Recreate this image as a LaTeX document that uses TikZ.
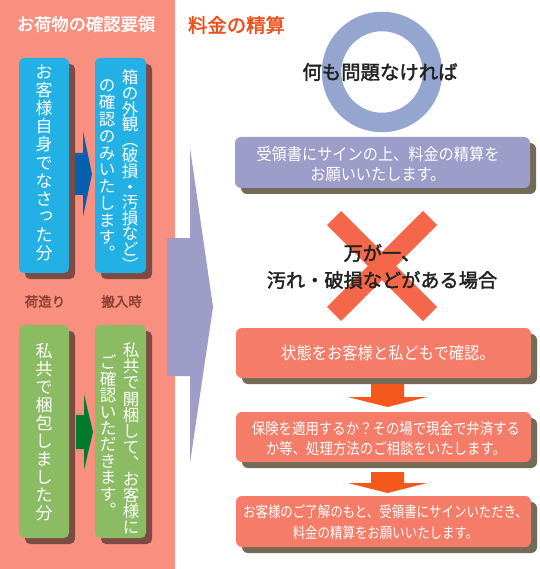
\documentclass[tikz,border=0pt]{standalone}
\usepackage{fontspec}
\usepackage{graphicx}
\newfontfamily\jp{Noto Sans CJK JP}
\newfontfamily\jpb{Noto Sans CJK JP}[FakeBold=2]
\usetikzlibrary{shadows}
\definecolor{salmonbg}{HTML}{F9907F}
\definecolor{bluebox}{HTML}{23B0E5}
\definecolor{dblue}{HTML}{0561AE}
\definecolor{greenbox}{HTML}{8BBB62}
\definecolor{dgreen}{HTML}{047A2F}
\definecolor{labelcol}{HTML}{8A3D30}
\definecolor{titleR}{HTML}{EF5019}
\definecolor{ringcol}{HTML}{94A6CF}
\definecolor{lavbox}{HTML}{9C9DC9}
\definecolor{lavarrow}{HTML}{9D9DC7}
\definecolor{xcol}{HTML}{F5674A}
\definecolor{sbox}{HTML}{F47C68}
\definecolor{oarrow}{HTML}{F4591B}
\definecolor{textdark}{HTML}{222222}
\definecolor{shL}{HTML}{7C4C44}
\definecolor{shR}{HTML}{736A58}
\newcommand\cond[2]{\scalebox{#1}[1]{\begin{tabular}{@{}c@{}}#2\end{tabular}}}
\newcommand\smallv[1]{\makebox[1em]{\hspace{0.25em}\raisebox{0.18em}{#1}}}
\begin{document}
\begin{tikzpicture}[x=1pt,y=-1pt,
  every node/.style={inner sep=0pt,outer sep=0pt},
  lbox/.style={rounded corners=5pt,minimum width=50pt,minimum height=215pt,
    drop shadow={shadow xshift=6pt,shadow yshift=-6pt,fill=shL,opacity=1}},
  rbox/.style={rounded corners=6pt,minimum width=295pt,
    drop shadow={shadow xshift=6pt,shadow yshift=-6pt,fill=shR,opacity=1}},
  vtxt/.style={anchor=north,align=center,text=white},
  htxt/.style={text=white,align=center}]
\useasboundingbox (0,0) rectangle (539,569);
\fill[white] (0,0) rectangle (539,569);
\fill[salmonbg] (0,0) rectangle (175,569);
% big lavender arrow
\fill[lavarrow] (167,238) -- (190,238) -- (190,148) -- (213,307) -- (190,463) -- (190,376) -- (167,376) -- cycle;
% left titles
\node[font=\jpb\fontsize{17.3}{20}\selectfont,text=white] (tl) at (86,24) {お荷物の確認要領};
\node[font=\jpb\fontsize{19.4}{22}\selectfont,text=titleR] (tr) at (236.5,25) {料金の精算};
% left boxes
\node[lbox,fill=bluebox] (b1) at (44,165.5) {};
\node[lbox,fill=bluebox,minimum width=51pt] (b2) at (120.5,165.5) {};
\node[lbox,fill=greenbox,minimum height=213pt] (g1) at (44,431.5) {};
\node[lbox,fill=greenbox,minimum width=51pt,minimum height=213pt] (g2) at (120.5,431.5) {};
% left arrows
\fill[dblue] (75,153) -- (83,153) -- (83,131) -- (92,174) -- (83,217) -- (83,195) -- (75,195) -- cycle;
\fill[dgreen] (76,415) -- (84,415) -- (84,394) -- (93,432) -- (84,470) -- (84,449) -- (76,449) -- cycle;
% vertical texts
\node[vtxt,font=\jp\fontsize{17}{18.1}\selectfont] (tb1) at (44,65)
 {お\\客\\様\\自\\身\\で\\な\\さ\\\smallv{っ}\\た\\分};
\node[vtxt,font=\jp\fontsize{16.5}{15.6}\selectfont] (tb2r) at (130,70)
 {箱\\の\\外\\観\\︵\\破\\損\\・\\汚\\損\\な\\ど\\︶};
\node[vtxt,font=\jp\fontsize{16.5}{16.8}\selectfont] (tb2l) at (107,80)
 {の\\確\\認\\の\\み\\い\\た\\し\\ま\\す\\︒};
\node[vtxt,font=\jp\fontsize{17}{18}\selectfont] (tg1) at (44,343)
 {私\\共\\で\\梱\\包\\し\\ま\\し\\た\\分};
\node[vtxt,font=\jp\fontsize{16.5}{16.1}\selectfont] (tg2r) at (131,343)
 {私\\共\\で\\開\\梱\\し\\て\\︑\\お\\客\\様\\に};
\node[vtxt,font=\jp\fontsize{16.5}{16.4}\selectfont] (tg2l) at (108,355)
 {ご\\確\\認\\い\\た\\だ\\き\\ま\\す\\︒};
% labels
\node[font=\jpb\fontsize{13.5}{15}\selectfont,text=labelcol] (lab1) at (45,301.5) {荷造り};
\node[font=\jpb\fontsize{13.5}{15}\selectfont,text=labelcol] (lab2) at (121.5,301.5) {搬入時};
% ring
\draw[ringcol,line width=19.5pt] (382,72) circle (50.5);
\node[font=\jpb\fontsize{19.4}{22}\selectfont,text=textdark] (ok) at (380,72) {何も問題なければ};
% lavender box
\node[rbox,fill=lavbox,minimum height=51pt] (r1) at (382.5,162.5) {};
\node[htxt,font=\jp\fontsize{16.5}{20}\selectfont] (r1t) at (378,167) {\cond{0.92}{受領書にサインの上、料金の精算を\\お願いいたします。}};
% X mark
\draw[xcol,line width=20pt] (334,218) -- (430,314);
\draw[xcol,line width=20pt] (430,218) -- (334,314);
\node[font=\jpb\fontsize{19.2}{27}\selectfont,text=textdark,align=center] (ng) at (382,266.5) {万が一、\\汚れ・破損などがある場合};
% salmon boxes
\node[rbox,fill=sbox,minimum height=50pt] (s1) at (383.5,353) {};
\node[rbox,fill=sbox,minimum height=50pt] (s2) at (383.5,437) {};
\node[rbox,fill=sbox,minimum height=51pt] (s3) at (383.5,521.5) {};
% orange arrows
\fill[oarrow] (371,384) -- (404,384) -- (404,397) -- (427,397) -- (387.5,407) -- (348,397) -- (371,397) -- cycle;
\fill[oarrow] (371,472) -- (404,472) -- (404,483) -- (427,483) -- (387.5,493) -- (348,483) -- (371,483) -- cycle;
\node[htxt,font=\jp\fontsize{17}{20}\selectfont] (s1t) at (388,355) {\cond{0.9}{状態をお客様と私どもで確認。}};
\node[htxt,font=\jp\fontsize{15.5}{20}\selectfont] (s2t) at (386,440) {\cond{0.865}{保険を適用するか？その場で現金で弁済する\\か等、処理方法のご相談をいたします。}};
\node[htxt,font=\jp\fontsize{15}{21}\selectfont] (s3t) at (385.5,523.5) {\cond{0.83}{お客様のご了解のもと、受領書にサインいただき、\\料金の精算をお願いいたします。}};
\end{tikzpicture}
\end{document}
